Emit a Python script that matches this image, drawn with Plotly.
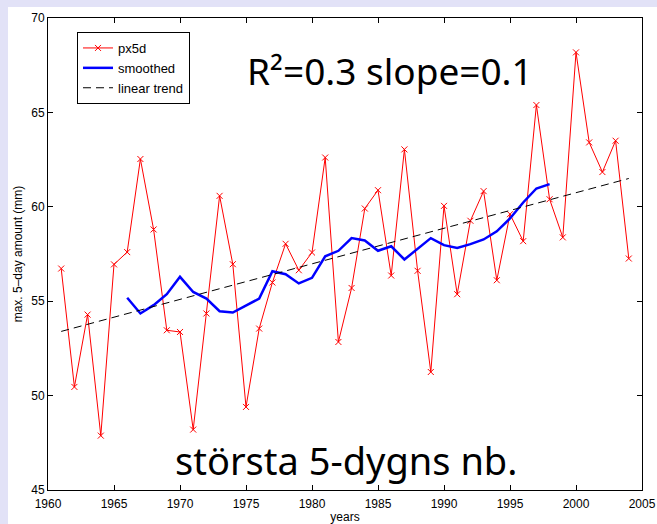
import plotly.graph_objects as go

years = list(range(1961, 2005))
px5d = [56.73, 50.46, 54.29, 47.88, 56.95, 57.60, 62.53, 58.80, 53.46, 53.37,
        48.20, 54.35, 60.58, 56.96, 49.40, 53.55, 55.99, 58.04, 56.64, 57.58,
        62.61, 52.84, 55.70, 59.91, 60.88, 56.36, 63.04, 56.61, 51.25, 60.05,
        55.37, 59.26, 60.83, 56.11, 59.61, 58.18, 65.39, 60.40, 58.38, 68.18,
        63.41, 61.84, 63.50, 57.26]

smooth_years = list(range(1966, 1999))
smoothed = [55.18, 54.35, 54.79, 55.37, 56.29, 55.49, 55.14, 54.47, 54.40, 54.75,
            55.14, 56.59, 56.43, 55.94, 56.24, 57.38, 57.67, 58.34, 58.22, 57.67,
            57.91, 57.21, 57.79, 58.34, 57.97, 57.82, 58.02, 58.27, 58.70, 59.38,
            60.23, 60.97, 61.20]

trend_years = [1961, 2004]
trend_vals = [53.4, 61.5]

x_ticks = list(range(1960, 2006, 5))
y_ticks = [45, 50, 55, 60, 65, 70]

W, H = 657, 524
ML, MR, MT, MB = 48, 15, 18, 34
PW, PH = W - ML - MR, H - MT - MB


def px_x(p):
    return (p - ML) / PW


def px_y(p):
    return 1 - (p - MT) / PH


fig = go.Figure()
fig.add_trace(go.Scatter(
    x=years, y=px5d, name="px5d", mode="lines+markers",
    line=dict(color="#ff0000", width=1),
    marker=dict(symbol="x-thin", size=6, line=dict(color="#ff0000", width=1), color="#ff0000"),
))
fig.add_trace(go.Scatter(
    x=smooth_years, y=smoothed, name="smoothed", mode="lines",
    line=dict(color="#0000ff", width=2.5),
))
fig.add_trace(go.Scatter(
    x=trend_years, y=trend_vals, name="linear trend", mode="lines",
    line=dict(color="black", width=1, dash="8px,5px"),
))

tickfont = dict(family="Liberation Sans, Arial, sans-serif", size=12, color="black")

fig.update_layout(
    width=W, height=H,
    margin=dict(l=ML, r=MR, t=MT, b=MB, pad=0),
    paper_bgcolor="#e2e2f7",
    plot_bgcolor="white",
    showlegend=True,
    legend=dict(
        x=px_x(77), y=px_y(32), xanchor="left", yanchor="top",
        bgcolor="white", bordercolor="black", borderwidth=1,
        font=dict(family="Liberation Sans, Arial, sans-serif", size=13, color="black"),
        tracegroupgap=0, itemwidth=30,
    ),
    xaxis=dict(
        range=[1960, 2005], tickvals=x_ticks, ticks="inside", ticklen=5,
        tickcolor="black", showline=True, linecolor="black", linewidth=1,
        mirror="ticks", showgrid=False, zeroline=False, tickfont=tickfont,
        ticklabelstandoff=3, automargin=False,
        title=dict(text="years", font=tickfont, standoff=6),
    ),
    yaxis=dict(
        range=[45, 70], tickvals=y_ticks, ticks="inside", ticklen=5,
        tickcolor="black", showline=True, linecolor="black", linewidth=1,
        mirror="ticks", showgrid=False, zeroline=False, tickfont=tickfont,
        automargin=False,
        title=dict(text="max. 5\u2013day amount (mm)", font=tickfont, standoff=6),
    ),
    shapes=[dict(
        type="rect", xref="paper", yref="paper", layer="below",
        x0=px_x(8), x1=px_x(W + 20), y0=px_y(H + 20), y1=px_y(7),
        fillcolor="white", line=dict(width=0),
    )],
    annotations=[
        dict(text="R\u00b2=0.3 slope=0.1", xref="paper", yref="paper",
             x=px_x(390), y=px_y(70), xanchor="center", yanchor="middle",
             showarrow=False, font=dict(family="Noto Sans", size=37, color="black")),
        dict(text="största 5-dygns nb.", xref="paper", yref="paper",
             x=px_x(346), y=px_y(460), xanchor="center", yanchor="middle",
             showarrow=False, font=dict(family="Noto Sans", size=38, color="black")),
    ],
)

fig.write_html("out.html")
